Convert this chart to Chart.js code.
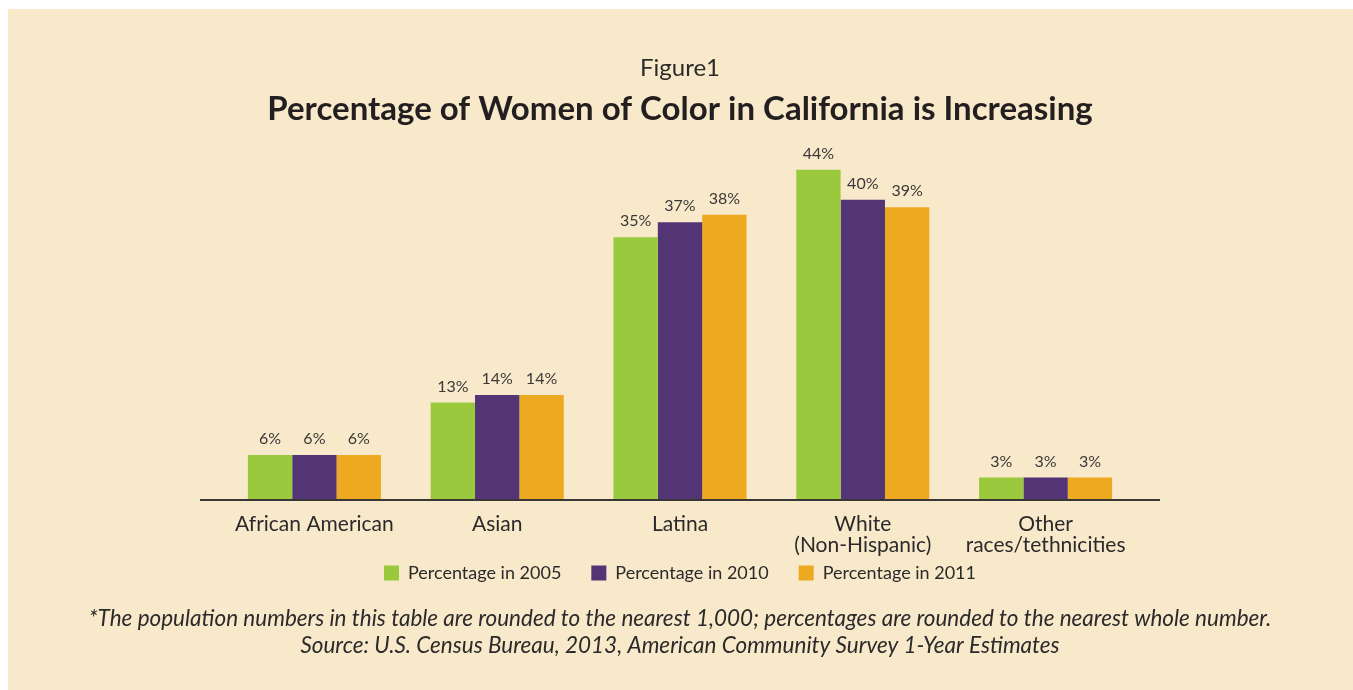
<!DOCTYPE html>
<html>
<head>
<meta charset="utf-8">
<script src="https://cdn.jsdelivr.net/npm/chart.js@4/dist/chart.umd.min.js"></script>
<style>
  html, body { margin: 0; padding: 0; background: #ffffff; }
  canvas { display: block; }
</style>
</head>
<body>
<canvas id="c" width="1353" height="690"></canvas>
<script>
const categories = [
  "African American",
  "Asian",
  "Latina",
  ["White", "(Non-Hispanic)"],
  ["Other", "races/tethnicities"]
];
const seriesNames = ["Percentage in 2005", "Percentage in 2010", "Percentage in 2011"];
const pct2005 = [6, 13, 35, 44, 3];
const pct2010 = [6, 14, 37, 40, 3];
const pct2011 = [6, 14, 38, 39, 3];
const seriesColors = ["#9AC93D", "#533575", "#EDA91F"];
const titleSmall = "Figure1";
const titleMain = "Percentage of Women of Color in California is Increasing";
const footnotes = [
  "*The population numbers in this table are rounded to the nearest 1,000; percentages are rounded to the nearest whole number.",
  "Source: U.S. Census Bureau, 2013, American Community Survey 1-Year Estimates"
];

const FONT = "Lato, 'Open Sans', sans-serif";
const TEXT = "#2b2a2a";

const bgPlugin = {
  id: 'bg',
  beforeDraw(chart) {
    const ctx = chart.ctx;
    ctx.save();
    ctx.fillStyle = '#ffffff';
    ctx.fillRect(0, 0, chart.width, chart.height);
    ctx.fillStyle = '#F9E9CB';
    ctx.fillRect(8, 9, chart.width - 8, chart.height - 9);
    ctx.restore();
  }
};

const decoPlugin = {
  id: 'deco',
  afterDatasetsDraw(chart) {
    const ctx = chart.ctx;
    const area = chart.chartArea;
    ctx.save();
    ctx.font = "16px " + FONT;
    ctx.fillStyle = "#3a3838";
    ctx.textAlign = 'center';
    ctx.textBaseline = 'bottom';
    chart.data.datasets.forEach((ds, di) => {
      const meta = chart.getDatasetMeta(di);
      meta.data.forEach((el, i) => {
        ctx.fillText(ds.data[i] + "%", el.x, el.y - 8);
      });
    });
    ctx.strokeStyle = "#3a3636";
    ctx.lineWidth = 2;
    ctx.beginPath();
    ctx.moveTo(area.left - 23, area.bottom);
    ctx.lineTo(area.right + 23, area.bottom);
    ctx.stroke();
    ctx.restore();
  },
  afterDraw(chart) {
    const ctx = chart.ctx;
    const area = chart.chartArea;
    const cx = (area.left + area.right) / 2;
    ctx.save();
    ctx.font = "italic 22.5px " + FONT;
    ctx.fillStyle = TEXT;
    ctx.textAlign = 'center';
    ctx.textBaseline = 'middle';
    ctx.fillText(footnotes[0], cx, 619);
    ctx.fillText(footnotes[1], cx, 646);
    ctx.restore();
  }
};

const datasets = [pct2005, pct2010, pct2011].map((arr, i) => ({
  label: seriesNames[i],
  data: arr,
  backgroundColor: seriesColors[i],
  borderWidth: 0,
  categoryPercentage: 0.728,
  barPercentage: 1.0
}));

new Chart(document.getElementById('c'), {
  type: 'bar',
  data: { labels: categories, datasets: datasets },
  options: {
    responsive: false,
    animation: false,
    events: [],
    layout: { padding: { left: 223, right: 216, top: 0, bottom: 98 } },
    scales: {
      x: {
        grid: { display: false, drawTicks: false },
        border: { display: false },
        ticks: {
          padding: 14,
          color: TEXT,
          font: { family: FONT, size: 21, lineHeight: 1.0 },
          maxRotation: 0,
          autoSkip: false
        },
        afterFit(scale) { scale.height = 56; }
      },
      y: {
        display: false,
        min: 0,
        max: 50
      }
    },
    plugins: {
      tooltip: { enabled: false },
      title: {
        display: true,
        text: titleSmall,
        color: TEXT,
        font: { family: FONT, size: 24, weight: 'normal', lineHeight: 1 },
        padding: { top: 56, bottom: 0 }
      },
      subtitle: {
        display: true,
        text: titleMain,
        color: "#231f20",
        font: { family: FONT, size: 33, weight: 'bold', lineHeight: 0.9 },
        padding: { top: 15, bottom: 0 }
      },
      legend: {
        position: 'bottom',
        title: {
          display: true,
          text: '',
          font: { size: 1, lineHeight: 1 },
          padding: -11.5
        },
        labels: {
          boxWidth: 15,
          boxHeight: 15,
          padding: 30,
          color: TEXT,
          font: { family: FONT, size: 18 }
        }
      }
    }
  },
  plugins: [bgPlugin, decoPlugin]
});
</script>
</body>
</html>
